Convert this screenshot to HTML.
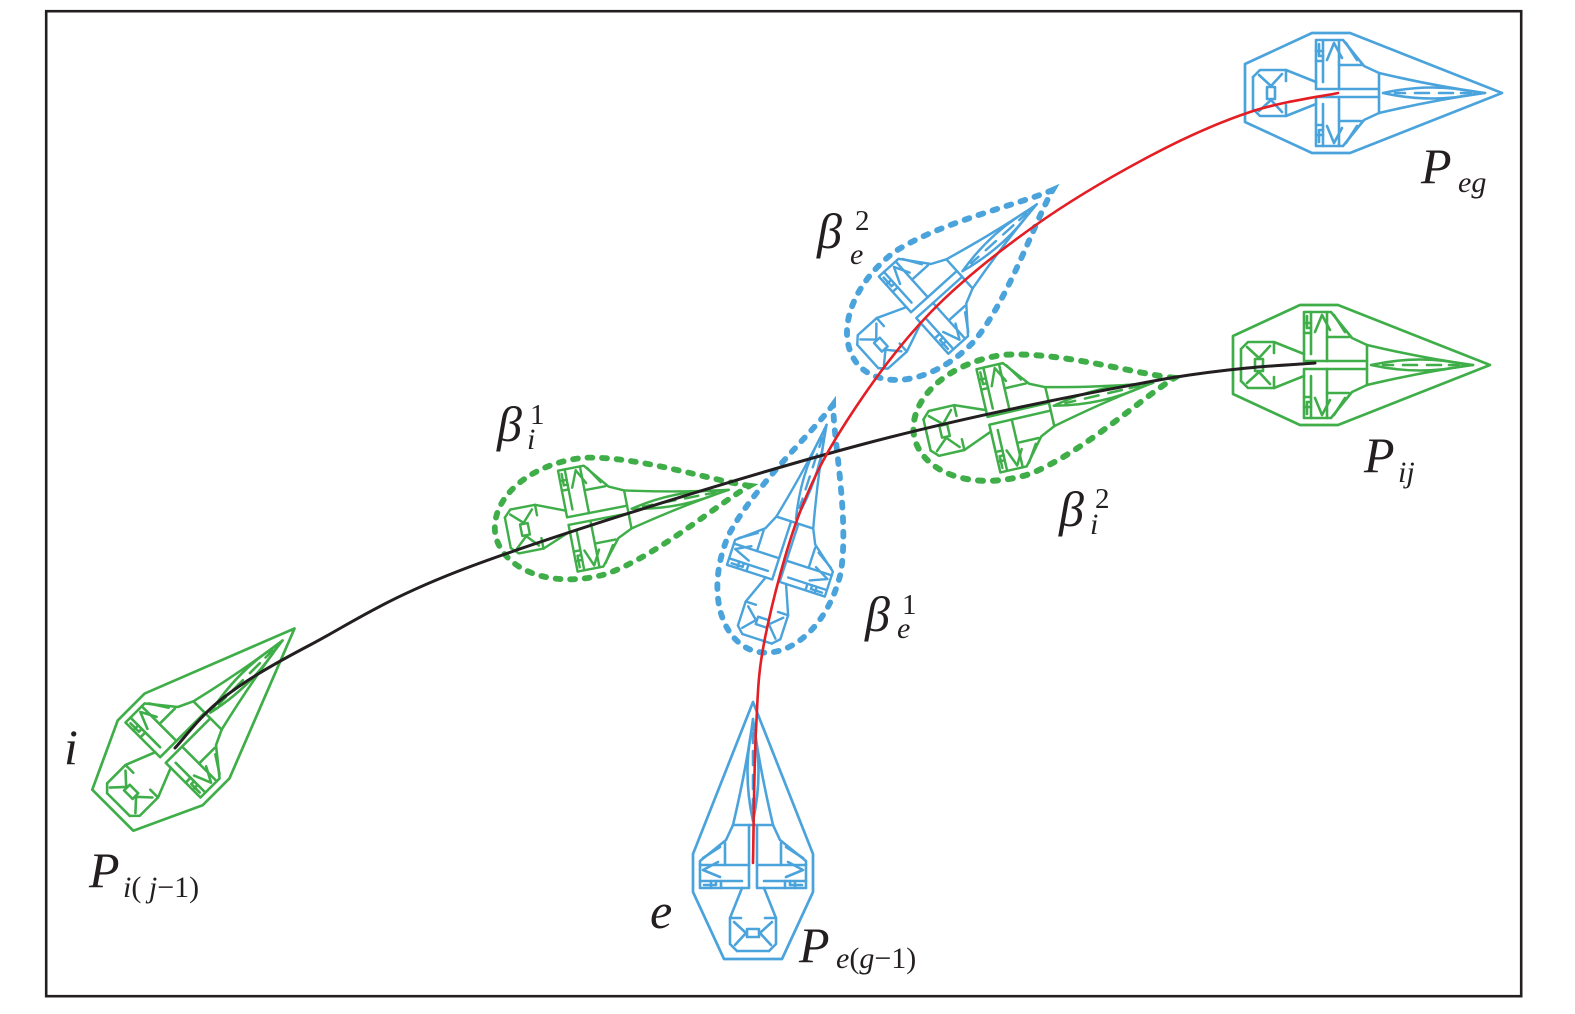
<!DOCTYPE html>
<html>
<head>
<meta charset="utf-8">
<style>
  html, body { margin: 0; padding: 0; background: #ffffff; }
  svg { display: block; }
  text { font-family: "Liberation Serif", "Times New Roman", serif; fill: #231f20; }
  .it { font-style: italic; }
</style>
</head>
<body>
<svg width="1575" height="1014" viewBox="0 0 1575 1014" xmlns="http://www.w3.org/2000/svg" font-family="Liberation Serif, serif">
  <defs>
    <g id="half">
      <path d="M -80,-16 L -73,-23 L -47,-23 L -17,-11"/>
      <path d="M -74,-18 L -62,-7 L -51,-19"/>
      <path d="M -17,-11 L -17,-53 L 10,-53 L 31,-27 L 46,-20"/>
      <path d="M -10,-53 L -10,-11"/>
      <path d="M 6,-53 L 6,-4"/>
      <path d="M -17,-32 L -10,-32"/>
      <path d="M -17,-42 L -10,-42"/>
      <path d="M -6,-33 L 1,-50 L 9,-35"/>
      <path d="M -14,-49 L -14,-37 L -10,-37"/>
      <path d="M 13,-50 L 24,-33"/>
      <path d="M 6,-28 L 28,-28"/>
      <path d="M 46,-20 C 80,-12 115,-5 152,0"/>
      <path d="M 6,-4 L 46,-4"/>
      <path d="M -17,-11 L -17,-4 L 6,-4"/>
      <path d="M -47,-23 L -47,-12"/>
    </g>
    <g id="ac" fill="none" stroke-linejoin="round" stroke-linecap="round">
      <use href="#half"/>
      <use href="#half" transform="scale(1,-1)"/>
      <path d="M -80,-16 L -80,16"/>
      <path d="M 46,-20 L 46,20"/>
      <path d="M 50,0 Q 100,-11 147,0 Q 100,11 50,0 Z"/>
      <path d="M 62,0 L 72,0 M 82,0 L 96,0 M 106,0 L 120,0 M 128,0 L 138,0"/>
      <path d="M -66,-6 L -58,-6 L -58,6 L -66,6 Z"/>
    </g>
    <path id="hull" fill="none" stroke-linejoin="round" d="M 169,0 L 17,-60 L -21,-60 L -88,-29 L -88,29 L -21,60 L 17,60 Z"/>
    <path id="dhull" fill="none" stroke-linecap="round" stroke-dasharray="5 10" d="M 174,0 C 138,-12 68,-52 12,-61 C -45,-66 -92,-38 -93,0 C -92,38 -45,66 12,61 C 68,52 138,12 174,0 Z"/>
  </defs>

  <!-- frame -->
  <rect x="46.2" y="11.2" width="1475" height="985" fill="none" stroke="#231f20" stroke-width="2.6"/>

  <!-- green aircraft -->
  <g stroke="#3fae49">
    <g transform="translate(1321,365)">
      <use href="#hull" stroke-width="2.7"/>
      <use href="#ac" stroke-width="2.6"/>
    </g>
    <g transform="translate(175,748) rotate(-45)">
      <use href="#hull" stroke-width="2.7"/>
      <use href="#ac" stroke-width="2.6"/>
    </g>
    <g transform="translate(584,518) rotate(-11) scale(0.97)">
      <use href="#dhull" stroke-width="6"/>
      <use href="#ac" stroke-width="2.5"/>
    </g>
    <g transform="translate(1005,417) rotate(-13)">
      <use href="#dhull" stroke-width="6"/>
      <use href="#ac" stroke-width="2.5"/>
    </g>
  </g>

  <!-- blue aircraft -->
  <g stroke="#4ba3dc">
    <g transform="translate(1333,93)">
      <use href="#hull" stroke-width="2.7"/>
      <use href="#ac" stroke-width="2.6"/>
    </g>
    <g transform="translate(753,871) rotate(-90)">
      <use href="#hull" stroke-width="2.7"/>
      <use href="#ac" stroke-width="2.6"/>
    </g>
    <g transform="translate(781,565) rotate(-72) scale(0.97)">
      <use href="#dhull" stroke-width="6"/>
      <use href="#ac" stroke-width="2.5"/>
    </g>
    <g transform="translate(926,304) rotate(-42) scale(0.98)">
      <use href="#dhull" stroke-width="6"/>
      <use href="#ac" stroke-width="2.5"/>
    </g>
  </g>

  <!-- black trajectory -->
  <path fill="none" stroke="#231f20" stroke-width="3" stroke-linecap="round"
    d="M 175,748 C 183,739.7 200.5,715.2 223,698 C 245.5,680.8 267.2,667.5 310,645 C 352.8,622.5 388.3,596.3 480,563 C 571.7,529.7 745,475.8 860,445 C 975,414.2 1094.2,391.7 1170,378 C 1245,366 1290.8,365 1315,363"/>

  <!-- red trajectory -->
  <path fill="none" stroke="#e31e24" stroke-width="2.6" stroke-linecap="round"
    d="M 753,863 C 753.5,840.8 754,767.5 756,730 C 758,692.5 757.7,674.3 765,638 C 772.3,601.7 785.8,549 800,512 C 814.2,475 828.3,449.2 850,416 C 871.7,382.8 899.5,344.5 930,313 C 960.5,281.5 996.3,253.2 1033,227 C 1069.7,200.8 1113.8,175.2 1150,156 C 1186.2,136.8 1218.7,122.5 1250,112 C 1281.3,101.5 1323.3,96.2 1338,93"/>

  <!-- labels -->
  <text class="it" font-family="Liberation Serif, serif" x="1421" y="183" font-size="50">P</text>
  <text class="it" font-family="Liberation Serif, serif" x="1458" y="192" font-size="30">eg</text>

  <text class="it" font-family="Liberation Serif, serif" x="1364" y="472" font-size="50">P</text>
  <text class="it" font-family="Liberation Serif, serif" x="1398" y="482" font-size="30">ij</text>

  <text class="it" font-family="Liberation Serif, serif" x="817" y="248" font-size="50">β</text>
  <text font-family="Liberation Serif, serif" x="855" y="230" font-size="29">2</text>
  <text class="it" font-family="Liberation Serif, serif" x="850" y="264" font-size="30">e</text>

  <text class="it" font-family="Liberation Serif, serif" x="497" y="441" font-size="50">β</text>
  <text font-family="Liberation Serif, serif" x="530" y="424" font-size="29">1</text>
  <text class="it" font-family="Liberation Serif, serif" x="527" y="449" font-size="30">i</text>

  <text class="it" font-family="Liberation Serif, serif" x="1059" y="526" font-size="50">β</text>
  <text font-family="Liberation Serif, serif" x="1095" y="508" font-size="29">2</text>
  <text class="it" font-family="Liberation Serif, serif" x="1090" y="534" font-size="30">i</text>

  <text class="it" font-family="Liberation Serif, serif" x="865" y="631" font-size="50">β</text>
  <text font-family="Liberation Serif, serif" x="902" y="614" font-size="29">1</text>
  <text class="it" font-family="Liberation Serif, serif" x="897" y="638" font-size="30">e</text>

  <text class="it" font-family="Liberation Serif, serif" x="64" y="764" font-size="50">i</text>

  <text class="it" font-family="Liberation Serif, serif" x="89" y="887" font-size="50">P</text>
  <text font-family="Liberation Serif, serif" x="123" y="897" font-size="30"><tspan class="it">i</tspan>( <tspan class="it">j</tspan>−1)</text>

  <text class="it" font-family="Liberation Serif, serif" x="650" y="928" font-size="50">e</text>

  <text class="it" font-family="Liberation Serif, serif" x="799" y="962" font-size="50">P</text>
  <text font-family="Liberation Serif, serif" x="836" y="968" font-size="30"><tspan class="it">e</tspan>(<tspan class="it">g</tspan>−1)</text>
</svg>
</body>
</html>
